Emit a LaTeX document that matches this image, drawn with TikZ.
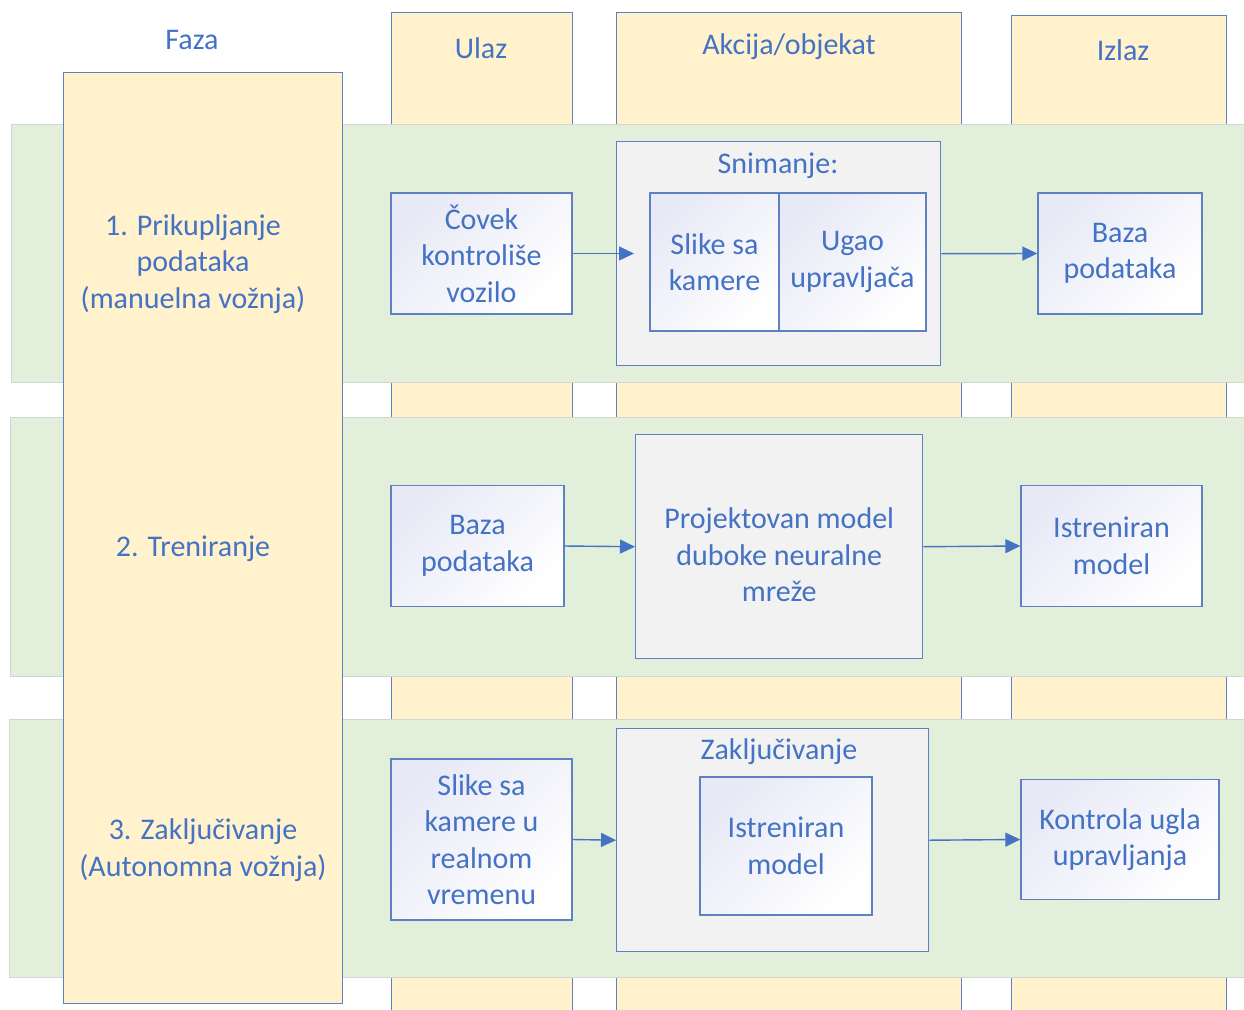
\documentclass[tikz,border=0pt]{standalone}
\usepackage{fontspec}
\setmainfont{Carlito}
\usepackage{tikz}
\usetikzlibrary{%
  arrows.meta
 ,shapes
}
\definecolor{txtblue}{RGB}{68,114,196}
\definecolor{lineblue}{RGB}{96,128,196}
\definecolor{colyellow}{RGB}{255,242,204}
\definecolor{rowgreen}{RGB}{226,239,218}
\definecolor{rowedge}{RGB}{210,214,208}
\definecolor{boxgray}{RGB}{242,242,242}
\definecolor{boxtint}{RGB}{231,233,246}
\tikzset{>={Triangle[length=15pt,width=14pt]}}
\tikzstyle{dia}=[x=1pt,y=-1pt,font=\fontsize{30}{36.5}\selectfont,text=txtblue,line width=1.4pt]
\tikzstyle{col}=[rectangle,draw=lineblue,fill=colyellow,anchor=north west,inner sep=0pt]
\tikzstyle{band}=[rectangle,draw=rowedge,fill=rowgreen,anchor=north west,inner sep=0pt]
\tikzstyle{grp}=[rectangle,draw=lineblue,fill=boxgray,anchor=north west,inner sep=0pt]
\tikzstyle{blk}=[rectangle,draw=lineblue,top color=boxtint,bottom color=white,shading angle=45,align=center,inner sep=0pt]
\tikzstyle{lbl}=[align=center,inner sep=0pt]
\tikzstyle{flow}=[->,draw=txtblue,fill=txtblue]

\begin{document}
\begin{tikzpicture}[dia]
      \useasboundingbox (0,0) rectangle (1244,1009);
      \clip (0,0) rectangle (1244,1009);
      % columns
      \node[col,minimum width=181,minimum height=1010] (ulaz) at (391,12) {};
      \node[col,minimum width=345,minimum height=1010] (akcija) at (616,12) {};
      \node[col,minimum width=215,minimum height=1010] (izlaz) at (1011,15) {};
      \node[lbl] (ulaz_t) at (481,48) {Ulaz};
      \node[lbl] (akcija_t) at (789,47) {Akcija/objekat};
      \node[lbl] (izlaz_t) at (1123,50) {Izlaz};
      % rows
      \node[band,minimum width=1245,minimum height=258] (row_1) at (11,124) {};
      \node[band,minimum width=1245,minimum height=259] (row_2) at (10,417) {};
      \node[band,minimum width=1245,minimum height=258] (row_3) at (9,719) {};
      % phases
      \node[lbl] (faza_t) at (192,40) {Faza};
      \node[col,minimum width=279,minimum height=931] (faza) at (63,72) {};
      \node[lbl] (ph_1) at (193,264) {1. Prikupljanje\\podataka\\(manuelna vožnja)};
      \node[lbl] (ph_2) at (193,549) {2. Treniranje};
      \node[lbl] (ph_3) at (203,850) {3. Zaključivanje\\(Autonomna vožnja)};
      % row 1
      \node[blk,minimum width=181,minimum height=121] (covek) at (481.5,253.5) {Čovek\\kontroliše\\vozilo};
      \node[grp,minimum width=324,minimum height=224] (snim) at (616,141) {};
      \node[lbl] (snim_t) at (778,166) {Snimanje:};
      \node[blk,minimum width=129,minimum height=138] (slike_1) at (714.5,262) {Slike sa\\kamere};
      \node[blk,minimum width=147,minimum height=138] (ugao) at (852.5,262) {Ugao\\upravljača};
      \node[blk,minimum width=164,minimum height=121] (baza_1) at (1120,253.5) {Baza\\podataka};
      \coordinate (snim_in) at (634,253.5);
      % row 2
      \node[blk,minimum width=173,minimum height=121] (baza_2) at (477.5,546) {Baza\\podataka};
      \node[grp,minimum width=287,minimum height=224] (proj) at (635,434) {};
      \node[lbl] (proj_t) at ([yshift=-8pt]proj.center) {Projektovan model\\duboke neuralne\\mreže};
      \node[blk,minimum width=181,minimum height=121] (istr_2) at (1111.5,546) {Istreniran\\model};
      % row 3
      \node[blk,minimum width=181,minimum height=161] (slike_3) at (481.5,839.5) {Slike sa\\kamere u\\realnom\\vremenu};
      \node[grp,minimum width=312,minimum height=223] (zakl) at (616,728) {};
      \node[lbl] (zakl_t) at (779,752) {Zaključivanje};
      \node[blk,minimum width=172,minimum height=138] (istr_3) at (786,846) {Istreniran\\model};
      \node[blk,minimum width=198,minimum height=120] (kontr) at (1120,839.5) {Kontrola ugla\\upravljanja};
      \draw[flow] (covek.east) -- (snim_in);
      \draw[flow] (snim.east) -- (baza_1.west);
      \draw[flow] (baza_2.east) -- (proj.west);
      \draw[flow] (proj.east) -- (istr_2.west);
      \draw[flow] (slike_3.east) -- (zakl.west);
      \draw[flow] (zakl.east) -- (kontr.west);
    \end{tikzpicture}
\end{document}
